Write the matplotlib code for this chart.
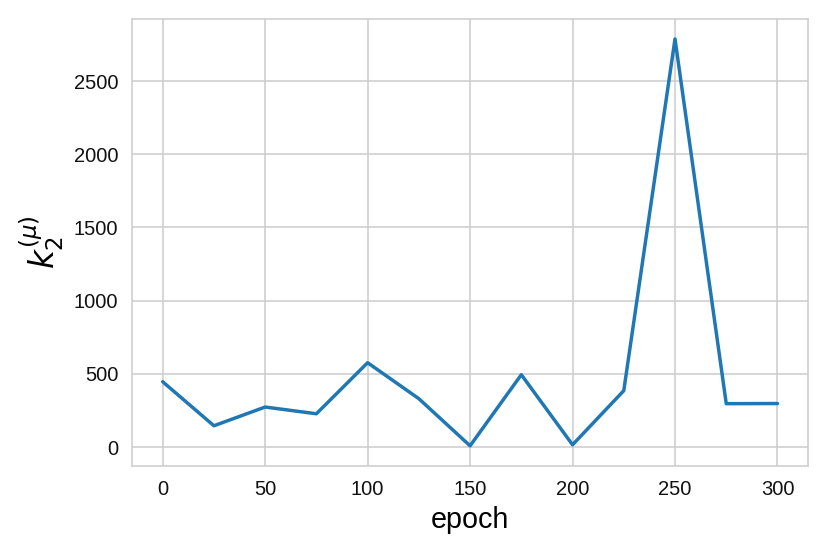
import matplotlib
matplotlib.use("Agg")
import matplotlib.pyplot as plt
import seaborn as sns

epochs = [0, 25, 50, 75, 100, 125, 150, 175, 200, 225, 250, 275, 300]
k2_mu = [445, 144, 272, 226, 575, 329, 7, 493, 14, 384, 2788, 295, 296]

sns.set_style("whitegrid")
plt.rcParams['font.family'] = ['Liberation Sans', 'DejaVu Sans']

fig, ax = plt.subplots(figsize=(6, 4), dpi=138.3)
ax.plot(epochs, k2_mu, color="#1f77b4", linewidth=1.8)
ax.set_xlabel("epoch", fontsize=15, color="black")
ax.set_ylabel(r"$k_2^{(\mu)}$", fontsize=17, color="black")
ax.set_xticks([0, 50, 100, 150, 200, 250, 300])
ax.set_yticks([0, 500, 1000, 1500, 2000, 2500])
ax.tick_params(labelsize=10.5, labelcolor="#111111")
fig.subplots_adjust(left=0.159, right=0.974, top=0.966, bottom=0.157)
fig.savefig("out.png", dpi=138.3)
